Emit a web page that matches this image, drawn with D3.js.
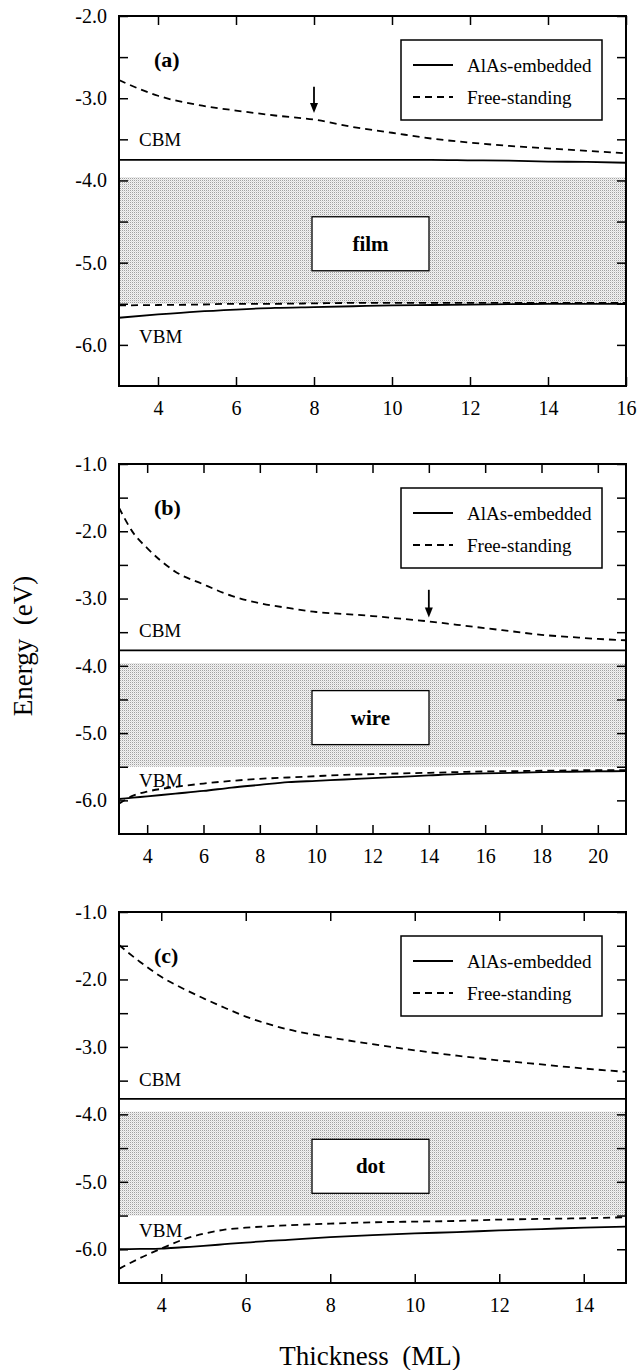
<!DOCTYPE html>
<html>
<head>
<meta charset="utf-8">
<script src="https://cdn.jsdelivr.net/npm/d3@7"></script>
<style>
  body { margin: 0; background: #fff; }
  svg { display: block; }
</style>
</head>
<body>
<div id="chart"></div>
<script>
// film (a)
const filmX = [3, 4, 5, 6, 7, 8, 9, 10, 11, 12, 13, 14, 15, 16];
const filmCbmEmbedded = [-3.75, -3.75, -3.75, -3.75, -3.75, -3.75, -3.75, -3.75, -3.75, -3.755, -3.76, -3.77, -3.775, -3.785];
const filmCbmFree = [-2.78, -2.97, -3.08, -3.15, -3.21, -3.26, -3.35, -3.42, -3.49, -3.54, -3.58, -3.61, -3.64, -3.67];
const filmVbmEmbedded = [-5.67, -5.63, -5.595, -5.57, -5.55, -5.54, -5.53, -5.52, -5.515, -5.51, -5.505, -5.5, -5.5, -5.5];
const filmVbmFree = [-5.52, -5.515, -5.51, -5.5, -5.5, -5.495, -5.49, -5.49, -5.49, -5.49, -5.49, -5.49, -5.49, -5.49];

// wire (b)
const wireX = [3, 3.5, 4, 5, 6, 7, 8, 9, 10, 11, 12, 13, 14, 15, 16, 17, 18, 19, 20, 21];
const wireCbmEmbedded = [-3.77, -3.77, -3.77, -3.77, -3.77, -3.77, -3.77, -3.77, -3.77, -3.77, -3.77, -3.77, -3.77, -3.77, -3.77, -3.77, -3.77, -3.77, -3.77, -3.77];
const wireCbmFree = [-1.65, -2.02, -2.25, -2.6, -2.79, -2.96, -3.07, -3.14, -3.2, -3.23, -3.26, -3.3, -3.34, -3.39, -3.44, -3.49, -3.54, -3.57, -3.6, -3.62];
const wireVbmEmbedded = [-5.98, -5.96, -5.94, -5.9, -5.86, -5.81, -5.77, -5.73, -5.71, -5.69, -5.67, -5.65, -5.63, -5.61, -5.6, -5.59, -5.58, -5.575, -5.57, -5.565];
const wireVbmFree = [-6.05, -5.93, -5.87, -5.8, -5.75, -5.71, -5.68, -5.66, -5.64, -5.62, -5.61, -5.6, -5.59, -5.58, -5.57, -5.565, -5.56, -5.555, -5.55, -5.55];

// dot (c)
const dotX = [3, 3.5, 4, 4.5, 5, 5.5, 6, 7, 8, 9, 10, 11, 12, 13, 14, 15];
const dotCbmEmbedded = [-3.77, -3.77, -3.77, -3.77, -3.77, -3.77, -3.77, -3.77, -3.77, -3.77, -3.77, -3.77, -3.77, -3.77, -3.77, -3.77];
const dotCbmFree = [-1.49, -1.74, -1.96, -2.13, -2.28, -2.42, -2.55, -2.74, -2.86, -2.96, -3.05, -3.13, -3.2, -3.26, -3.32, -3.37];
const dotVbmEmbedded = [-6.0, -5.995, -5.99, -5.97, -5.95, -5.925, -5.9, -5.86, -5.82, -5.79, -5.765, -5.745, -5.72, -5.7, -5.68, -5.665];
const dotVbmFree = [-6.29, -6.13, -5.99, -5.86, -5.77, -5.71, -5.68, -5.645, -5.62, -5.6, -5.59, -5.58, -5.56, -5.55, -5.54, -5.525];

const filmXTicks = [4, 6, 8, 10, 12, 14, 16];
const wireXTicks = [4, 6, 8, 10, 12, 14, 16, 18, 20];
const dotXTicks = [4, 6, 8, 10, 12, 14];
const filmYTicks = [-2.0, -2.5, -3.0, -3.5, -4.0, -4.5, -5.0, -5.5, -6.0];
const wireYTicks = [-1.0, -1.5, -2.0, -2.5, -3.0, -3.5, -4.0, -4.5, -5.0, -5.5, -6.0];
const dotYTicks = wireYTicks;

const seriesNames = ["AlAs-embedded", "Free-standing"];
const panelLabels = ["(a)", "(b)", "(c)"];
const shapeLabels = ["film", "wire", "dot"];
const gapBand = [-3.96, -5.5];
const arrowAt = [[8, -2.86, -3.18], [14, -2.87, -3.28], null];
const vbmLabelY = [-5.9, -5.71, -5.72];
const cbmLabelY = [-3.5, -3.48, -3.49];

const w = 639;
const h = 1370;
const left = 119;
const right = 626;
const serif = "Liberation Serif, Times New Roman, serif";

const svg = d3.select("#chart")
  .append("svg")
  .attr("width", w)
  .attr("height", h);

// grey dot stipple for the shaded gap
const defs = svg.append("defs");
const pat = defs.append("pattern")
  .attr("id", "stipple")
  .attr("width", 2)
  .attr("height", 2)
  .attr("patternUnits", "userSpaceOnUse");
pat.append("rect").attr("width", 2).attr("height", 2).attr("fill", "#f2f2f2");
pat.append("rect").attr("x", 0).attr("y", 0).attr("width", 1).attr("height", 1).attr("fill", "#a0a0a0");
pat.append("rect").attr("x", 1).attr("y", 1).attr("width", 1).attr("height", 1).attr("fill", "#dcdcdc");

const panels = [
  {x: filmX, cbmE: filmCbmEmbedded, cbmF: filmCbmFree, vbmE: filmVbmEmbedded, vbmF: filmVbmFree,
   xd: [3, 16], yd: [-6.5, -2.0], xt: filmXTicks, yt: filmYTicks, top: 16, bottom: 386},
  {x: wireX, cbmE: wireCbmEmbedded, cbmF: wireCbmFree, vbmE: wireVbmEmbedded, vbmF: wireVbmFree,
   xd: [3, 21], yd: [-6.5, -1.0], xt: wireXTicks, yt: wireYTicks, top: 464, bottom: 834},
  {x: dotX, cbmE: dotCbmEmbedded, cbmF: dotCbmFree, vbmE: dotVbmEmbedded, vbmF: dotVbmFree,
   xd: [3, 15], yd: [-6.5, -1.0], xt: dotXTicks, yt: dotYTicks, top: 912, bottom: 1283}
];

panels.forEach((p, i) => {
  const xScale = d3.scaleLinear().domain(p.xd).range([left, right]);
  const yScale = d3.scaleLinear().domain(p.yd).range([p.bottom, p.top]);
  const g = svg.append("g");

  // shaded gap region
  g.append("rect")
    .attr("x", xScale(p.xd[0]))
    .attr("y", yScale(gapBand[0]))
    .attr("width", xScale(p.xd[1]) - xScale(p.xd[0]))
    .attr("height", yScale(gapBand[1]) - yScale(gapBand[0]))
    .attr("fill", "url(#stipple)");

  const clipId = "clip" + i;
  defs.append("clipPath").attr("id", clipId)
    .append("rect")
    .attr("x", left).attr("y", p.top)
    .attr("width", right - left).attr("height", p.bottom - p.top);

  const line = (ys) => d3.line()
    .x((d, k) => xScale(p.x[k]))
    .y((d) => yScale(d))
    .curve(d3.curveMonotoneX)(ys);

  const curves = g.append("g").attr("clip-path", "url(#" + clipId + ")");
  [[p.cbmE, null], [p.vbmE, null], [p.cbmF, "7,5"], [p.vbmF, "7,5"]].forEach(c => {
    curves.append("path")
      .attr("d", line(c[0]))
      .attr("fill", "none")
      .attr("stroke", "#000")
      .attr("stroke-width", 1.8)
      .attr("stroke-dasharray", c[1]);
  });

  // axes with inward ticks
  const yAxisL = d3.axisLeft(yScale).tickValues(p.yt).tickSize(-9).tickPadding(12)
    .tickFormat(d => Math.abs(d % 1) < 1e-9 ? d.toFixed(1) : "");
  const yAxisR = d3.axisRight(yScale).tickValues(p.yt).tickSize(-9).tickFormat("");
  const xAxisB = d3.axisBottom(xScale).tickValues(p.xt).tickSize(-9).tickPadding(15).tickFormat(d => d);
  const xAxisT = d3.axisTop(xScale).tickValues(p.xt).tickSize(-9).tickFormat("");

  const axes = [
    [yAxisL, "translate(" + left + ",0)"],
    [yAxisR, "translate(" + right + ",0)"],
    [xAxisB, "translate(0," + p.bottom + ")"],
    [xAxisT, "translate(0," + p.top + ")"]
  ];
  axes.forEach(a => {
    const ag = g.append("g").attr("transform", a[1]).call(a[0]);
    ag.attr("font-family", serif).attr("font-size", 20);
    ag.select(".domain").remove();
    ag.selectAll(".tick line").attr("stroke-width", 1.5);
    ag.selectAll("text").attr("fill", "#000");
  });

  // frame
  g.append("rect")
    .attr("x", left).attr("y", p.top)
    .attr("width", right - left).attr("height", p.bottom - p.top)
    .attr("fill", "none")
    .attr("stroke", "#000")
    .attr("stroke-width", 2);

  // panel letter
  g.append("text")
    .attr("x", 154).attr("y", p.top + 43)
    .attr("dominant-baseline", "central")
    .attr("font-family", serif).attr("font-weight", "bold").attr("font-size", 22)
    .text(panelLabels[i]);

  g.append("text")
    .attr("x", 139).attr("y", yScale(cbmLabelY[i]))
    .attr("dominant-baseline", "central")
    .attr("font-family", serif).attr("font-size", 19)
    .text("CBM");
  g.append("text")
    .attr("x", 139).attr("y", yScale(vbmLabelY[i]))
    .attr("dominant-baseline", "central")
    .attr("font-family", serif).attr("font-size", 19)
    .text("VBM");

  // legend
  const lg = g.append("g").attr("transform", "translate(401," + (p.top + 24) + ")");
  lg.append("rect")
    .attr("width", 201).attr("height", 80)
    .attr("fill", "#fff").attr("stroke", "#000").attr("stroke-width", 1.5);
  seriesNames.forEach((name, k) => {
    const yy = 25 + k * 32;
    lg.append("line")
      .attr("x1", 12).attr("x2", 52).attr("y1", yy).attr("y2", yy)
      .attr("stroke", "#000").attr("stroke-width", 1.8)
      .attr("stroke-dasharray", k === 1 ? "7,5" : null);
    lg.append("text")
      .attr("x", 66).attr("y", yy)
      .attr("dominant-baseline", "central")
      .attr("font-family", serif).attr("font-size", 19)
      .text(name);
  });

  // film / wire / dot box
  const by = yScale(-4.77);
  g.append("rect")
    .attr("x", 312).attr("y", by - 27)
    .attr("width", 117).attr("height", 54)
    .attr("fill", "#fff").attr("stroke", "#000").attr("stroke-width", 1.3);
  g.append("text")
    .attr("x", 370.5).attr("y", by)
    .attr("text-anchor", "middle")
    .attr("dominant-baseline", "central")
    .attr("font-family", serif).attr("font-weight", "bold").attr("font-size", 21)
    .text(shapeLabels[i]);

  // arrow marking the kink
  if (arrowAt[i]) {
    const ax = xScale(arrowAt[i][0]);
    const y0 = yScale(arrowAt[i][1]);
    const y1 = yScale(arrowAt[i][2]);
    g.append("line")
      .attr("x1", ax).attr("x2", ax).attr("y1", y0).attr("y2", y1 - 8)
      .attr("stroke", "#000").attr("stroke-width", 1.8);
    g.append("path")
      .attr("d", "M" + (ax - 4) + "," + (y1 - 10) + "L" + (ax + 4) + "," + (y1 - 10) + "L" + ax + "," + y1 + "Z")
      .attr("fill", "#000");
  }
});

// axis titles
svg.append("text")
  .attr("transform", "translate(32,646) rotate(-90)")
  .attr("text-anchor", "middle")
  .attr("font-family", serif).attr("font-size", 27)
  .style("white-space", "pre")
  .text("Energy  (eV)");

svg.append("text")
  .attr("x", 370).attr("y", 1365)
  .attr("text-anchor", "middle")
  .attr("font-family", serif).attr("font-size", 27)
  .style("white-space", "pre")
  .text("Thickness  (ML)");
</script>
</body>
</html>
